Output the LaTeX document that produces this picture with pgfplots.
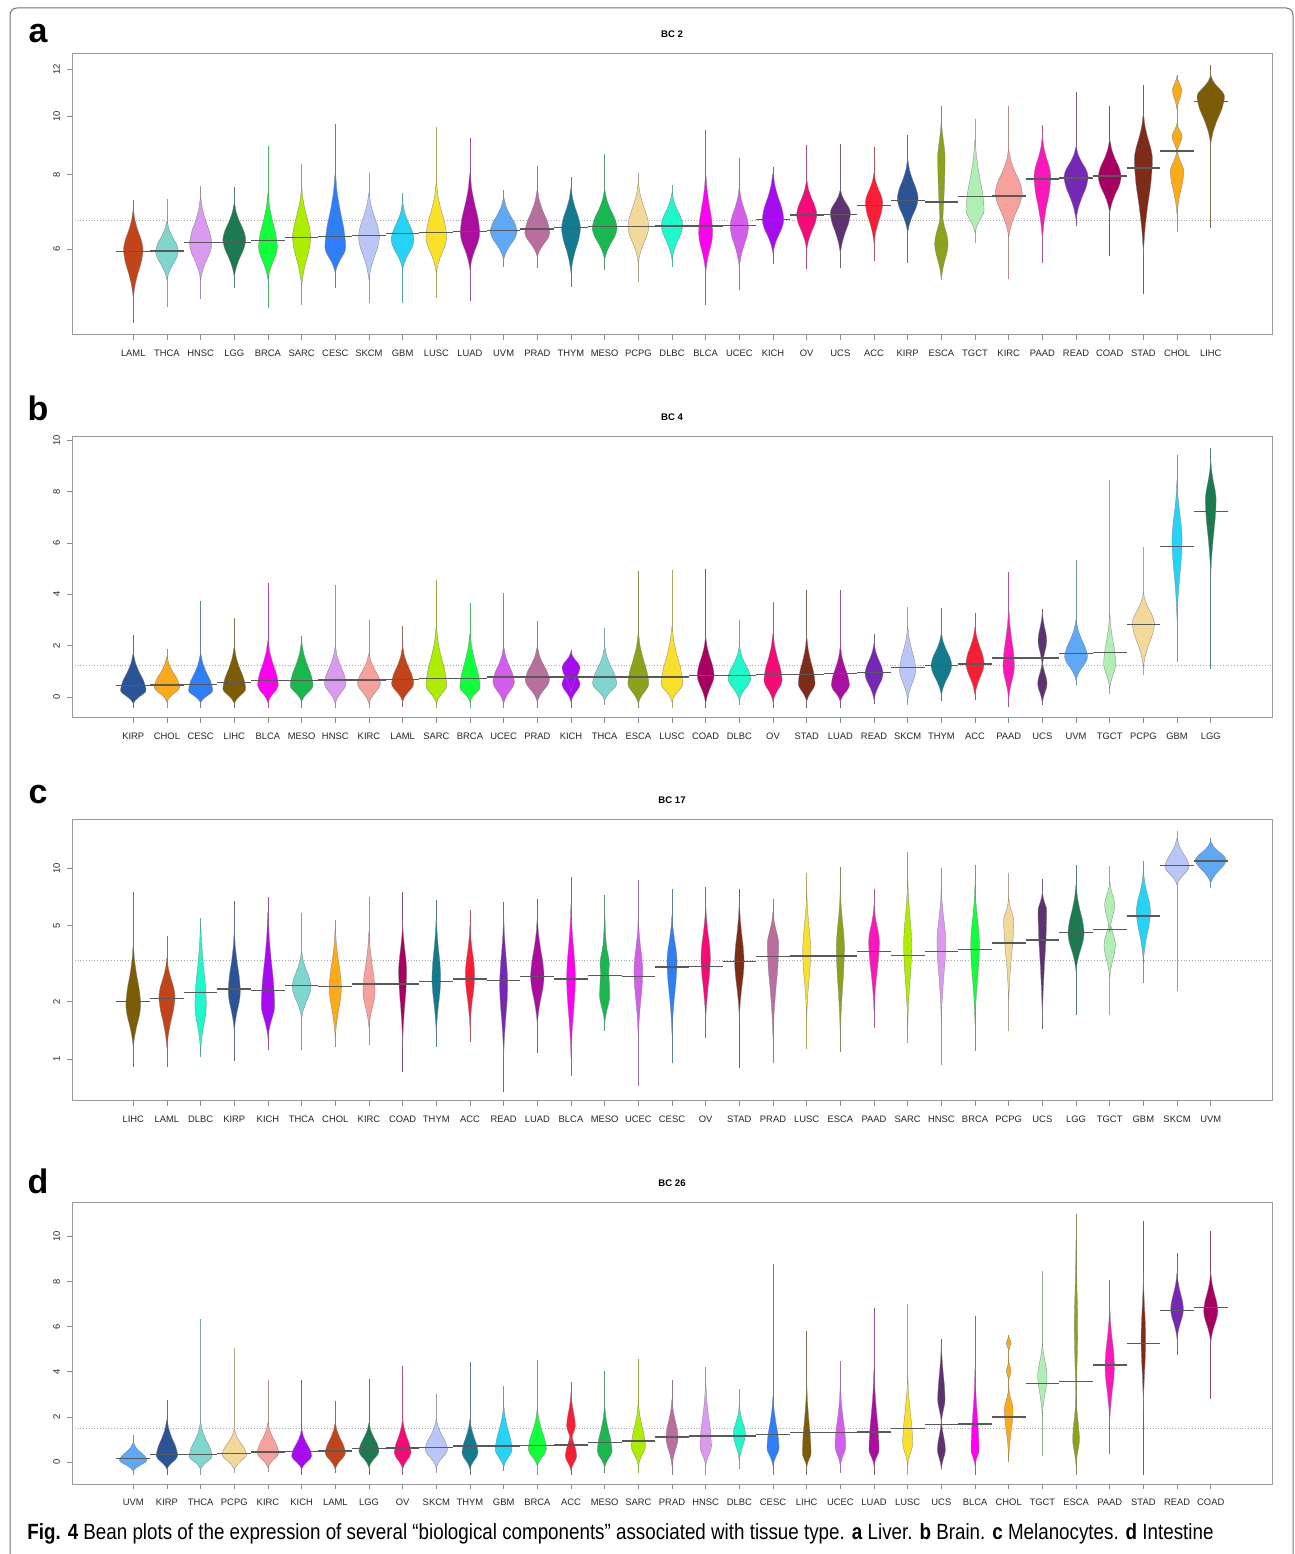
\documentclass[border=0pt]{standalone}
\usepackage{fontspec}
\setmainfont{Liberation Sans}
\usepackage{pgfplots}
\usepackage{pgfplotstable}
\pgfplotsset{compat=1.18}

% tissue colours
\definecolor{LAML}{HTML}{C1441A}\definecolor{THCA}{HTML}{7FD6CF}
\definecolor{HNSC}{HTML}{D99AF0}\definecolor{LGG}{HTML}{1B7A50}
\definecolor{BRCA}{HTML}{10FF3A}\definecolor{SARC}{HTML}{AEEC00}
\definecolor{CESC}{HTML}{2E7EF7}\definecolor{SKCM}{HTML}{B9C6F6}
\definecolor{GBM}{HTML}{25D3F7}\definecolor{LUSC}{HTML}{FBE02A}
\definecolor{LUAD}{HTML}{A90E9E}\definecolor{UVM}{HTML}{5EA8F5}
\definecolor{PRAD}{HTML}{B96F9E}\definecolor{THYM}{HTML}{147A8E}
\definecolor{MESO}{HTML}{18B84E}\definecolor{PCPG}{HTML}{F3D999}
\definecolor{DLBC}{HTML}{1EF9CC}\definecolor{BLCA}{HTML}{FF00F0}
\definecolor{UCEC}{HTML}{D45EEC}\definecolor{KICH}{HTML}{A60BF2}
\definecolor{OV}{HTML}{F50A78}\definecolor{UCS}{HTML}{5E3270}
\definecolor{ACC}{HTML}{F81E33}\definecolor{KIRP}{HTML}{2B5497}
\definecolor{ESCA}{HTML}{8CA21A}\definecolor{TGCT}{HTML}{B0EFB3}
\definecolor{KIRC}{HTML}{F6A19C}\definecolor{PAAD}{HTML}{FB18BA}
\definecolor{READ}{HTML}{7428B4}\definecolor{COAD}{HTML}{A70060}
\definecolor{STAD}{HTML}{7E2B19}\definecolor{CHOL}{HTML}{FBAA18}
\definecolor{LIHC}{HTML}{7D5C07}

% one row per bean: tail ends (lo, hi), body from a to b, widest at m,
% half width w, beanline at mean; extra rows add a second bump
\pgfplotstableread{
x  lo   a    m     b     hi    w    mean cat
1  4.52 4.97 5.98  6.98  7.25  0.29 5.94 LAML
2  4.81 5.33 5.95  6.68  7.29  0.34 5.96 THCA
3  4.96 5.33 6.12  7.32  7.66  0.33 6.15 HNSC
4  5.17 5.39 6.22  7.17  7.61  0.34 6.15 LGG
5  4.79 5.33 6.05  7.45  8.93  0.28 6.20 BRCA
6  4.83 5.19 6.27  7.60  8.33  0.27 6.27 SARC
7  5.17 5.47 6.05  8.04  9.72  0.31 6.30 CESC
8  4.88 5.33 6.29  7.45  8.04  0.31 6.32 SKCM
9  4.88 5.54 6.22  7.17  7.45  0.34 6.37 GBM
10 4.97 5.47 6.29  7.74  9.60  0.31 6.40 LUSC
11 4.91 5.54 6.39  8.04  9.20  0.29 6.42 LUAD
12 5.60 5.76 6.42  7.32  7.54  0.40 6.45 UVM
13 5.58 5.82 6.39  7.54  8.27  0.37 6.48 PRAD
14 5.19 5.47 6.50  7.60  7.93  0.28 6.52 THYM
15 5.54 5.76 6.50  7.54  8.66  0.37 6.54 MESO
16 5.29 5.69 6.54  7.74  8.04  0.31 6.54 PCPG
17 5.60 5.76 6.58  7.45  7.69  0.32 6.56 DLBC
18 4.83 5.47 6.39  8.04  9.50  0.21 6.56 BLCA
19 5.13 5.60 6.54  7.60  8.53  0.27 6.57 UCEC
20 5.67 5.90 6.72  8.04  8.24  0.32 6.72 KICH
21 5.56 5.98 6.85  7.83  8.96  0.30 6.84 OV
22 5.58 5.90 6.90  7.54  9.00  0.30 6.86 UCS
23 5.73 6.13 7.17  8.04  8.90  0.26 7.10 ACC
24 5.69 6.39 7.29  8.46  9.30  0.31 7.23 KIRP
25 5.40 5.54 8.50  9.95  10.42 0.11 7.20 ESCA
25 6.13 5.33 6.13  7.00  6.13  0.20 7.20 ESCA
26 6.14 6.39 6.98  9.14  9.90  0.27 7.35 TGCT
27 5.35 6.29 7.45  8.79  10.40 0.40 7.37 KIRC
28 5.69 6.22 7.93  9.24  9.68  0.25 7.86 PAAD
29 6.55 6.72 7.93  8.90  11.00 0.36 7.89 READ
30 5.84 6.90 7.93  9.14  10.40 0.34 7.96 COAD
31 5.04 5.90 8.46  10.10 11.30 0.27 8.20 STAD
32 6.42 6.85 8.09  8.79  11.75 0.20 8.76 CHOL
32 9.27 8.70 9.27  9.75  9.27  0.15 8.76 CHOL
32 11.08 10.26 11.08 11.70 11.08 0.14 8.76 CHOL
33 6.50 9.00 10.80 11.70 12.20 0.41 10.60 LIHC
}\tabA

\pgfplotstableread{
x  lo    a     m    b    hi   w    mean cat
1  -0.45 -0.26 0.26 1.69 2.43 0.38 0.44 KIRP
2  -0.45 -0.19 0.39 1.56 1.88 0.38 0.47 CHOL
3  -0.45 -0.23 0.26 1.69 3.73 0.36 0.49 CESC
4  -0.42 -0.26 0.32 1.95 3.09 0.34 0.56 LIHC
5  -0.45 -0.23 0.45 2.20 4.45 0.31 0.65 BLCA
6  -0.42 -0.19 0.45 2.14 2.38 0.34 0.65 MESO
7  -0.45 -0.26 0.52 1.95 4.38 0.32 0.66 HNSC
8  -0.45 -0.26 0.52 1.69 3.01 0.34 0.66 KIRC
9  -0.39 -0.19 0.52 1.95 2.78 0.33 0.69 LAML
10 -0.45 -0.26 0.45 2.73 4.55 0.31 0.73 SARC
11 -0.42 -0.19 0.39 2.47 3.66 0.30 0.73 BRCA
12 -0.42 -0.26 0.58 1.95 4.06 0.32 0.77 UCEC
13 -0.42 -0.19 0.65 1.95 2.95 0.36 0.78 PRAD
14 -0.42 -0.19 0.50 1.30 1.84 0.27 0.78 KICH
14 1.15  0.20  1.15 1.75 1.15 0.27 0.78 KICH
15 -0.32 -0.13 0.52 1.95 2.70 0.36 0.78 THCA
16 -0.42 -0.26 0.52 2.47 4.91 0.31 0.77 ESCA
17 -0.42 -0.19 0.52 2.73 4.94 0.32 0.78 LUSC
18 -0.45 -0.26 0.84 2.34 5.00 0.25 0.83 COAD
19 -0.32 -0.13 0.71 1.95 3.01 0.34 0.83 DLBC
20 -0.42 -0.19 0.65 2.47 3.70 0.27 0.87 OV
21 -0.42 -0.19 0.52 2.34 4.16 0.25 0.87 STAD
22 -0.42 -0.19 0.45 1.95 4.16 0.27 0.91 LUAD
23 -0.29 -0.13 0.91 2.08 2.47 0.27 0.95 READ
24 -0.32 -0.13 1.04 2.73 3.50 0.24 1.14 SKCM
25 -0.16 0.06  1.23 2.47 3.47 0.31 1.23 THYM
26 -0.13 0.06  1.30 2.73 3.29 0.27 1.29 ACC
27 -0.39 -0.13 1.20 3.50 4.87 0.17 1.52 PAAD
28 -0.32 -0.26 0.52 1.43 3.44 0.14 1.52 UCS
28 2.20  1.17  2.20 3.31 2.20 0.13 1.52 UCS
29 0.45  0.65  1.56 2.99 5.32 0.34 1.69 UVM
30 0.13  0.32  1.30 3.25 8.47 0.18 1.73 TGCT
31 0.84  1.17  2.86 4.03 5.84 0.33 2.83 PCPG
32 1.36  2.99  6.10 8.44 9.42 0.15 5.87 GBM
33 1.10  4.68  7.66 9.22 9.71 0.16 7.23 LGG
}\tabB

\pgfplotstableread{
x  lo   a    m     b     hi    w    mean  cat
1  0.91 1.14 1.92  3.95  7.45  0.22 2.00  LIHC
2  0.91 1.14 2.12  3.37  4.40  0.24 2.08  LAML
3  1.02 1.09 1.92  5.20  5.50  0.17 2.23  DLBC
4  0.98 1.39 2.25  4.64  6.70  0.18 2.32  KIRP
5  1.12 1.28 1.92  5.91  7.07  0.20 2.29  KICH
6  1.11 1.63 2.39  3.65  5.80  0.28 2.42  THCA
7  1.16 1.28 2.35  4.83  5.34  0.18 2.40  CHOL
8  1.18 1.45 2.25  4.64  7.07  0.18 2.47  KIRC
9  0.86 1.18 2.87  5.20  7.45  0.12 2.47  COAD
10 1.16 1.34 2.64  5.67  6.80  0.13 2.54  THYM
11 1.23 1.45 2.75  5.03  6.03  0.14 2.62  ACC
12 0.67 1.01 2.44  5.67  6.65  0.12 2.57  READ
13 1.07 1.51 2.70  5.45  6.88  0.20 2.71  LUAD
14 0.81 1.01 2.64  6.40  9.00  0.13 2.62  BLCA
15 1.41 1.51 2.16  5.91  7.20  0.15 2.73  MESO
15 3.11 2.30 3.11  4.60  3.11  0.14 2.73  MESO
16 0.72 1.28 2.87  5.45  8.67  0.13 2.70  UCEC
17 0.95 1.34 3.23  5.67  7.75  0.15 3.03  CESC
18 1.29 1.57 3.37  6.40  7.98  0.14 3.05  OV
19 0.90 1.63 3.23  6.65  7.77  0.14 3.23  STAD
20 0.95 1.28 3.95  5.91  6.85  0.17 3.43  PRAD
21 1.13 1.63 3.65  7.52  9.45  0.12 3.47  LUSC
22 1.09 1.28 3.80  7.80  10.10 0.12 3.47  ESCA
23 1.46 1.77 4.11  6.40  7.80  0.16 3.65  PAAD
24 1.22 1.45 3.95  8.83  12.20 0.12 3.49  SARC
25 0.93 1.57 4.11  7.80  10.00 0.13 3.65  HNSC
26 1.10 1.51 3.95  8.15  10.37 0.13 3.75  BRCA
27 1.40 2.00 5.24  6.94  9.37  0.15 4.05  PCPG
28 1.44 1.57 5.91  7.52  8.76  0.13 4.20  UCS
29 1.69 2.87 4.55  8.15  10.37 0.24 4.58  LGG
30 1.71 2.64 3.95  5.50  10.30 0.17 4.75  TGCT
30 6.40 4.60 6.40  8.50  6.40  0.15 4.75  TGCT
31 2.49 3.23 5.91  9.57  10.88 0.21 5.61  GBM
32 2.28 8.15 10.17 14.30 15.60 0.36 10.33 SKCM
33 7.89 8.32 11.00 13.75 14.40 0.46 10.90 UVM
}\tabC

\pgfplotstableread{
x  lo    a     m    b    hi    w    mean cat
1  -0.55 -0.40 0.09 0.86 1.18  0.41 0.15 UVM
2  -0.55 -0.32 0.27 1.89 2.75  0.32 0.34 KIRP
3  -0.55 -0.32 0.27 1.74 6.35  0.34 0.34 THCA
4  -0.50 -0.32 0.34 1.45 5.07  0.36 0.38 PCPG
5  -0.44 -0.25 0.41 1.74 3.62  0.32 0.44 KIRC
6  -0.55 -0.32 0.27 1.45 3.63  0.30 0.46 KICH
7  -0.50 -0.32 0.41 1.74 2.70  0.30 0.49 LAML
8  -0.55 -0.25 0.49 1.74 3.66  0.30 0.59 LGG
9  -0.55 -0.32 0.41 1.89 4.28  0.25 0.62 OV
10 -0.50 -0.25 0.56 1.89 3.03  0.33 0.65 SKCM
11 -0.55 -0.32 0.41 1.89 4.45  0.24 0.71 THYM
12 -0.40 -0.25 0.56 2.48 3.37  0.25 0.71 GBM
13 -0.55 -0.18 0.56 2.33 4.52  0.27 0.74 BRCA
14 -0.55 -0.40 0.27 1.45 3.55  0.17 0.75 ACC
14 1.60  0.90  1.60 3.07 1.60  0.13 0.75 ACC
15 -0.50 -0.25 0.49 2.48 4.03  0.22 0.86 MESO
16 -0.50 -0.18 0.71 2.63 4.59  0.21 0.93 SARC
17 -0.55 -0.18 1.08 2.78 3.63  0.18 1.11 PRAD
18 -0.55 -0.18 0.71 3.52 4.22  0.17 1.15 HNSC
19 -0.30 0.04  1.23 2.48 3.25  0.18 1.15 DLBC
20 -0.55 -0.18 0.64 2.92 8.76  0.18 1.23 CESC
21 -0.55 -0.25 0.41 3.52 5.80  0.13 1.30 LIHC
22 -0.47 -0.18 0.71 3.37 4.48  0.16 1.30 UCEC
23 -0.55 -0.18 0.56 4.11 6.84  0.15 1.34 LUAD
24 -0.55 -0.18 0.86 3.81 6.99  0.15 1.48 LUSC
25 -0.32 -0.32 0.56 1.90 5.44  0.12 1.67 UCS
25 2.78  1.70  2.78 5.29 2.78  0.11 1.67 UCS
26 -0.55 -0.18 0.56 4.11 6.47  0.12 1.68 BLCA
27 0.00  0.12  2.33 3.30 5.63  0.13 1.99 CHOL
27 4.03  3.60  4.03 4.50 4.03  0.07 1.99 CHOL
27 5.29  4.90  5.29 5.60 5.29  0.07 1.99 CHOL
28 0.27  2.04  3.81 5.29 8.46  0.14 3.49 TGCT
29 -0.55 -0.18 1.00 3.00 11.00 0.10 3.56 ESCA
29 6.00  2.00  6.00 9.87 6.00  0.05 3.56 ESCA
30 0.34  1.74  4.25 6.91 8.09  0.14 4.30 PAAD
31 -0.55 2.33  5.44 8.39 10.68 0.07 5.26 STAD
32 4.73  5.44  6.77 8.39 9.28  0.19 6.72 READ
33 2.81  5.29  6.69 8.39 10.24 0.21 6.84 COAD
}\tabD

% #1 table, #2 row, #3 = 1 for a log axis
\newcommand\onebean[3]{%
  \pgfplotstablegetelem{#2}{x}\of{#1}\let\bx\pgfplotsretval
  \pgfplotstablegetelem{#2}{lo}\of{#1}\let\blo\pgfplotsretval
  \pgfplotstablegetelem{#2}{a}\of{#1}\let\ba\pgfplotsretval
  \pgfplotstablegetelem{#2}{m}\of{#1}\let\bm\pgfplotsretval
  \pgfplotstablegetelem{#2}{b}\of{#1}\let\bb\pgfplotsretval
  \pgfplotstablegetelem{#2}{hi}\of{#1}\let\bhi\pgfplotsretval
  \pgfplotstablegetelem{#2}{w}\of{#1}\let\bw\pgfplotsretval
  \pgfplotstablegetelem{#2}{mean}\of{#1}\let\bmean\pgfplotsretval
  \pgfplotstablegetelem{#2}{cat}\of{#1}\let\bc\pgfplotsretval
  \ifnum#3=1
    \pgfmathsetmacro\la{ln(\ba)}\pgfmathsetmacro\lm{ln(\bm)}\pgfmathsetmacro\lb{ln(\bb)}%
    \pgfmathsetmacro\yA{exp(\la+0.25*(\lm-\la))}%
    \pgfmathsetmacro\yB{exp(\la+0.5*(\lm-\la))}%
    \pgfmathsetmacro\yC{exp(\la+0.75*(\lm-\la))}%
    \pgfmathsetmacro\yD{exp(\lm+0.25*(\lb-\lm))}%
    \pgfmathsetmacro\yE{exp(\lm+0.5*(\lb-\lm))}%
    \pgfmathsetmacro\yF{exp(\lm+0.75*(\lb-\lm))}%
  \else
    \pgfmathsetmacro\yA{\ba+0.25*(\bm-\ba)}%
    \pgfmathsetmacro\yB{\ba+0.5*(\bm-\ba)}%
    \pgfmathsetmacro\yC{\ba+0.75*(\bm-\ba)}%
    \pgfmathsetmacro\yD{\bm+0.25*(\bb-\bm)}%
    \pgfmathsetmacro\yE{\bm+0.5*(\bb-\bm)}%
    \pgfmathsetmacro\yF{\bm+0.75*(\bb-\bm)}%
  \fi
  \pgfmathsetmacro\xRa{\bx+0.17*\bw}\pgfmathsetmacro\xLa{\bx-0.17*\bw}%
  \pgfmathsetmacro\xRb{\bx+0.46*\bw}\pgfmathsetmacro\xLb{\bx-0.46*\bw}%
  \pgfmathsetmacro\xRc{\bx+0.82*\bw}\pgfmathsetmacro\xLc{\bx-0.82*\bw}%
  \pgfmathsetmacro\xRd{\bx+\bw}\pgfmathsetmacro\xLd{\bx-\bw}%
  \pgfmathsetmacro\xml{\bx-0.5}\pgfmathsetmacro\xmr{\bx+0.5}%
  \edef\tmp{\noexpand\addplot[draw=\bc!40!gray, line width=0.35pt]
    coordinates {(\bx,\blo) (\bx,\bhi)};}\tmp
  \edef\tmp{\noexpand\addplot[fill=\bc, draw=black!50, line width=0.15pt, smooth, tension=0.5]
    coordinates {(\bx,\ba) (\xRa,\yA) (\xRb,\yB) (\xRc,\yC) (\xRd,\bm) (\xRc,\yD) (\xRb,\yE)
      (\xRa,\yF) (\bx,\bb) (\xLa,\yF) (\xLb,\yE) (\xLc,\yD) (\xLd,\bm) (\xLc,\yC) (\xLb,\yB)
      (\xLa,\yA) (\bx,\ba)};}\tmp
  \edef\tmp{\noexpand\addplot[black!65, line width=0.7pt]
    coordinates {(\xml,\bmean) (\xmr,\bmean)};}\tmp
}
\newcommand\drawbeans[2]{%
  \pgfplotstablegetrowsof{#1}\pgfmathtruncatemacro\nlast{\pgfplotsretval-1}%
  \pgfplotsinvokeforeach{0,...,\nlast}{\onebean{#1}{##1}{#2}}%
}

\pgfplotsset{beanax/.style={
  scale only axis, width=600pt, height=140.5pt, anchor=south west,
  xmin=-0.82, xmax=34.82, xtick={1,...,33},
  no markers, clip=true,
  axis line style={black!40, line width=0.5pt},
  tick style={black!45, line width=0.4pt},
  major tick length=2.5pt, tick align=outside,
  xtick pos=left, ytick pos=left,
  tick label style={font=\fontsize{4.7}{5}\selectfont, text=black!85},
  xticklabel style={yshift=-1.5pt},
  yticklabel style={rotate=90, anchor=south},
  title style={font=\bfseries\fontsize{4.8}{5}\selectfont, at={(0.5,1)}, anchor=center, yshift=4pt},
}}

\begin{document}
\begin{tikzpicture}
\useasboundingbox (0,0) rectangle (647.5pt,777pt);
\draw[black!55, line width=0.5pt, rounded corners=3.5pt] (5pt,-5pt) rectangle (646.5pt,773pt);

\begin{axis}[beanax, at={(36pt,609.5pt)}, title={BC 2},
  ymode=log, ymin=4.31, ymax=12.73, ytick={6,8,10,12}, yticklabels={6,8,10,12},
  xticklabels={LAML,THCA,HNSC,LGG,BRCA,SARC,CESC,SKCM,GBM,LUSC,LUAD,UVM,PRAD,THYM,MESO,PCPG,DLBC,BLCA,UCEC,KICH,OV,UCS,ACC,KIRP,ESCA,TGCT,KIRC,PAAD,READ,COAD,STAD,CHOL,LIHC}]
\addplot[densely dotted, black!35, line width=0.4pt] coordinates {(-0.82,6.7) (34.82,6.7)};
\drawbeans{\tabA}{1}
\end{axis}

\begin{axis}[beanax, at={(36pt,418pt)}, title={BC 4},
  ymin=-0.82, ymax=10.13, ytick={0,2,4,6,8,10}, yticklabels={0,2,4,6,8,10},
  xticklabels={KIRP,CHOL,CESC,LIHC,BLCA,MESO,HNSC,KIRC,LAML,SARC,BRCA,UCEC,PRAD,KICH,THCA,ESCA,LUSC,COAD,DLBC,OV,STAD,LUAD,READ,SKCM,THYM,ACC,PAAD,UCS,UVM,TGCT,PCPG,GBM,LGG}]
\addplot[densely dotted, black!35, line width=0.4pt] coordinates {(-0.82,1.23) (34.82,1.23)};
\drawbeans{\tabB}{0}
\end{axis}

\begin{axis}[beanax, at={(36pt,226.5pt)}, title={BC 17},
  ymode=log, ymin=0.6027, ymax=17.84, ytick={1,2,5,10}, yticklabels={1,2,5,10},
  xticklabels={LIHC,LAML,DLBC,KIRP,KICH,THCA,CHOL,KIRC,COAD,THYM,ACC,READ,LUAD,BLCA,MESO,UCEC,CESC,OV,STAD,PRAD,LUSC,ESCA,PAAD,SARC,HNSC,BRCA,PCPG,UCS,LGG,TGCT,GBM,SKCM,UVM}]
\addplot[densely dotted, black!35, line width=0.4pt] coordinates {(-0.82,3.3) (34.82,3.3)};
\drawbeans{\tabC}{1}
\end{axis}

\begin{axis}[beanax, at={(36pt,35pt)}, title={BC 26},
  ymin=-0.97, ymax=11.48, ytick={0,2,4,6,8,10}, yticklabels={0,2,4,6,8,10},
  xticklabels={UVM,KIRP,THCA,PCPG,KIRC,KICH,LAML,LGG,OV,SKCM,THYM,GBM,BRCA,ACC,MESO,SARC,PRAD,HNSC,DLBC,CESC,LIHC,UCEC,LUAD,LUSC,UCS,BLCA,CHOL,TGCT,ESCA,PAAD,STAD,READ,COAD}]
\addplot[densely dotted, black!35, line width=0.4pt] coordinates {(-0.82,1.48) (34.82,1.48)};
\drawbeans{\tabD}{0}
\end{axis}

\node[font=\bfseries\fontsize{17}{17}\selectfont] at (19pt,760pt) {a};
\node[font=\bfseries\fontsize{17}{17}\selectfont] at (19pt,573pt) {b};
\node[font=\bfseries\fontsize{17}{17}\selectfont] at (19pt,379.5pt) {c};
\node[font=\bfseries\fontsize{17}{17}\selectfont] at (19pt,186.5pt) {d};
\node[anchor=base west, inner sep=0pt] at (13.5pt,7.5pt) {\resizebox{593pt}{\height}{\fontsize{11}{13}\selectfont
  \textbf{Fig. 4} Bean plots of the expression of several “biological components” associated with tissue type. \textbf{a} Liver. \textbf{b} Brain. \textbf{c} Melanocytes. \textbf{d} Intestine}};
\end{tikzpicture}
\end{document}
